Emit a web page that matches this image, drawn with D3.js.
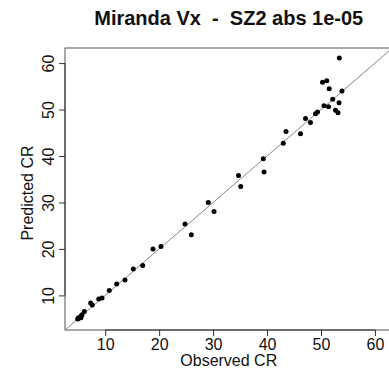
<!DOCTYPE html>
<html>
<head>
<meta charset="utf-8">
<script src="https://cdn.jsdelivr.net/npm/d3@7"></script>
<style>
  body { margin: 0; background: #fff; }
  svg text { font-family: "Liberation Sans", Arial, Helvetica, sans-serif; fill: #111; white-space: pre; }
</style>
</head>
<body>
<div id="chart"></div>
<script>
// observed vs predicted CR
var observed  = [4.90, 5.05, 5.20, 5.46, 5.50, 5.70, 6.13, 7.31, 7.61, 8.80, 9.41, 10.76, 12.13, 13.67,
                 15.21, 16.95, 18.86, 20.34, 24.79, 25.96, 29.11, 30.17, 34.71, 35.12, 39.31, 39.44,
                 43.01, 43.51, 46.20, 47.13, 48.05, 48.98, 49.35, 50.55, 51.39, 52.69, 53.15, 52.17,
                 53.34, 53.89, 51.52, 50.28, 51.06, 53.39];
var predicted = [4.92, 5.20, 5.13, 5.47, 5.20, 5.84, 6.55, 8.36, 7.93, 9.22, 9.43, 11.06, 12.44, 13.30,
                 15.69, 16.44, 19.99, 20.52, 25.36, 23.04, 29.98, 28.05, 35.83, 33.42, 39.42, 36.54,
                 42.76, 45.25, 44.80, 48.05, 47.23, 49.12, 49.49, 50.82, 50.63, 49.87, 49.31, 52.22,
                 51.49, 54.00, 54.50, 55.87, 56.22, 61.10];
var ticks = [10, 20, 30, 40, 50, 60];
var title = "Miranda Vx  -  SZ2 abs 1e-05";

var width = 389, height = 375;
var margin = {top: 48, left: 65, bottom: 45, right: -3.5};

var svg = d3.select("#chart").append("svg")
    .attr("width", width)
    .attr("height", height);

var lim = [2.55, 63.25];

var x = d3.scaleLinear().domain(lim).range([margin.left, width - margin.right]);
var y = d3.scaleLinear().domain(lim).range([height - margin.bottom, margin.top]);

// plot box
svg.append("rect")
    .attr("x", x(lim[0]))
    .attr("y", y(lim[1]))
    .attr("width", x(lim[1]) - x(lim[0]))
    .attr("height", y(lim[0]) - y(lim[1]))
    .attr("fill", "none")
    .attr("stroke", "#555")
    .attr("stroke-width", 1);

svg.append("defs").append("clipPath").attr("id", "clip")
  .append("rect")
    .attr("x", x(lim[0]))
    .attr("y", y(lim[1]))
    .attr("width", x(lim[1]) - x(lim[0]))
    .attr("height", y(lim[0]) - y(lim[1]));

// x axis
var xAxis = svg.append("g")
    .attr("transform", "translate(0," + y(lim[0]) + ")")
    .call(d3.axisBottom(x).tickValues(ticks).tickSize(6).tickPadding(3).tickSizeOuter(0));
xAxis.select(".domain").attr("d", "M" + x(10) + ",0H" + x(60)).attr("stroke", "#333");
xAxis.selectAll(".tick line").attr("stroke", "#333");
xAxis.selectAll(".tick text")
    .attr("font-size", "16px")
    .attr("fill", "#111")
    .attr("dy", null)
    .attr("y", 19.5);

// y axis
var yAxis = svg.append("g")
    .attr("transform", "translate(" + x(lim[0]) + ",0)")
    .call(d3.axisLeft(y).tickValues(ticks).tickSize(6).tickSizeOuter(0));
yAxis.select(".domain").attr("d", "M0," + y(10) + "V" + y(60)).attr("stroke", "#333");
yAxis.selectAll(".tick line").attr("stroke", "#333");
yAxis.selectAll(".tick text")
    .attr("font-size", "16px")
    .attr("fill", "#111")
    .attr("x", null)
    .attr("dy", null)
    .attr("text-anchor", "middle")
    .attr("transform", "translate(-11.5,0) rotate(-90)");

// 1:1 line
svg.append("line")
    .attr("clip-path", "url(#clip)")
    .attr("x1", x(lim[0])).attr("y1", y(lim[0]))
    .attr("x2", x(lim[1])).attr("y2", y(lim[1]))
    .attr("stroke", "#888")
    .attr("stroke-width", 1);

// points
svg.append("g")
    .selectAll("circle")
    .data(observed)
    .enter().append("circle")
      .attr("cx", function(d) { return x(d); })
      .attr("cy", function(d, i) { return y(predicted[i]); })
      .attr("r", 2.5)
      .attr("fill", "#000");

// titles
svg.append("text")
    .attr("x", (x(lim[0]) + x(lim[1])) / 2)
    .attr("y", 25)
    .attr("text-anchor", "middle")
    .attr("font-size", "20px")
    .attr("font-weight", "bold")
    .attr("xml:space", "preserve")
    .text(title);

svg.append("text")
    .attr("x", (x(lim[0]) + x(lim[1])) / 2)
    .attr("y", 365.5)
    .attr("text-anchor", "middle")
    .attr("font-size", "16px")
    .text("Observed CR");

svg.append("text")
    .attr("transform", "translate(33," + 193 + ") rotate(-90)")
    .attr("text-anchor", "middle")
    .attr("font-size", "16px")
    .text("Predicted CR");
</script>
</body>
</html>
